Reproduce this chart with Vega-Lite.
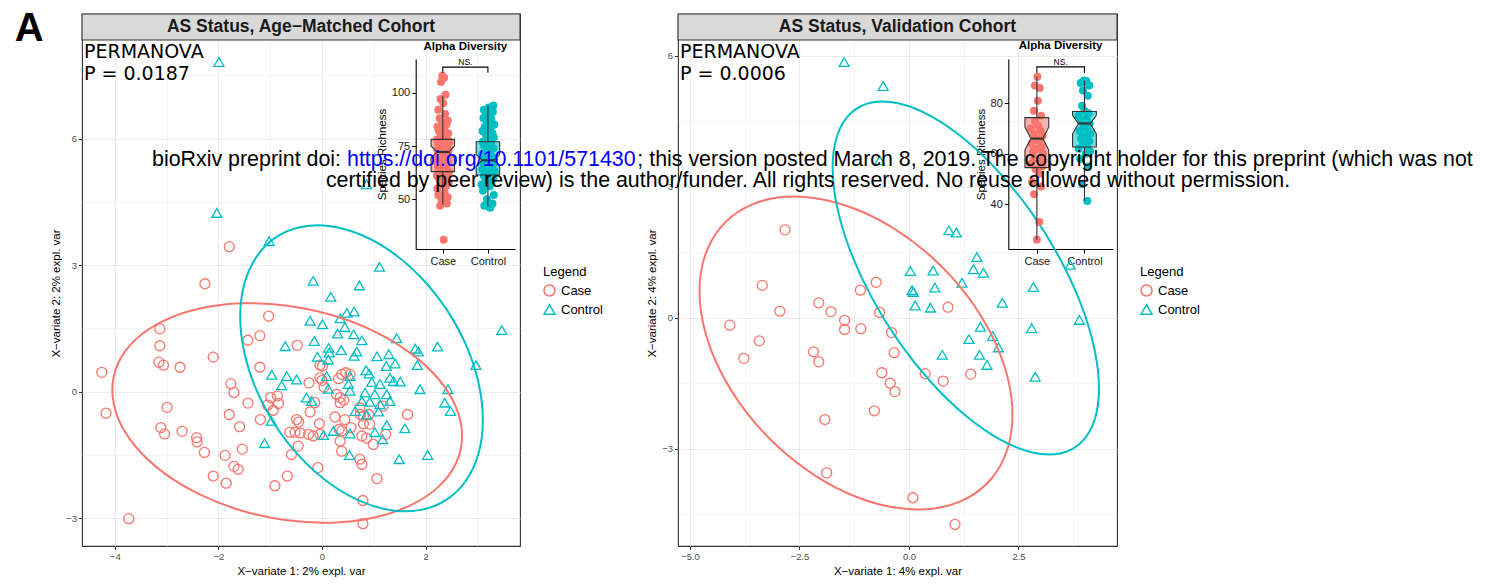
{
"$schema": "https://vega.github.io/schema/vega-lite/v6.json",
"background": "white",
"padding": {"left": 14, "top": 8, "right": 5, "bottom": 2},
"config": {
  "font": "Liberation Sans",
  "view": {"stroke": "#333333", "strokeWidth": 1.1},
  "axis": {"labelFont": "Liberation Sans", "titleFont": "Liberation Sans", "gridColor": "#EBEBEB", "domain": false, "tickColor": "#333333", "tickSize": 3.5, "labelColor": "#4D4D4D", "labelFontSize": 9.5, "labelPadding": 2, "titleFontSize": 11.5, "titleColor": "#000000", "titleFontWeight": "normal", "titlePadding": 4, "labelFlush": false},
  "legend": {"labelFont": "Liberation Sans", "titleFont": "Liberation Sans"}
},
"datasets": {
  "p1pts": [
    {"g":"Case","x":-1.79,"y":3.44},{"g":"Case","x":-2.26,"y":2.56},{"g":"Case","x":-1.03,"y":1.79},{"g":"Case","x":-3.13,"y":1.49},{"g":"Case","x":-1.2,"y":1.33},{"g":"Case","x":-1.43,"y":1.22},{"g":"Case","x":-3.13,"y":1.09},{"g":"Case","x":-2.1,"y":0.82},{"g":"Case","x":-3.15,"y":0.7},{"g":"Case","x":-3.06,"y":0.63},{"g":"Case","x":-2.74,"y":0.58},{"g":"Case","x":-1.2,"y":0.58},{"g":"Case","x":-4.25,"y":0.46},{"g":"Case","x":-1.76,"y":0.19},{"g":"Case","x":-1.7,"y":-0.02},{"g":"Case","x":-0.99,"y":-0.14},{"g":"Case","x":-0.86,"y":-0.1},{"g":"Case","x":-0.84,"y":-0.28},{"g":"Case","x":-1.05,"y":-0.32},{"g":"Case","x":-1.43,"y":-0.27},{"g":"Case","x":-0.94,"y":-0.44},{"g":"Case","x":-4.17,"y":-0.51},{"g":"Case","x":-2.99,"y":-0.37},{"g":"Case","x":-1.79,"y":-0.54},{"g":"Case","x":-1.19,"y":-0.66},{"g":"Case","x":-1.59,"y":-0.83},{"g":"Case","x":-3.11,"y":-0.85},{"g":"Case","x":-3.04,"y":-1.0},{"g":"Case","x":-2.7,"y":-0.94},{"g":"Case","x":-2.42,"y":-1.09},{"g":"Case","x":-2.41,"y":-1.19},{"g":"Case","x":-2.27,"y":-1.44},{"g":"Case","x":-1.54,"y":-1.36},{"g":"Case","x":-1.87,"y":-1.51},{"g":"Case","x":-1.7,"y":-1.77},{"g":"Case","x":-1.62,"y":-1.84},{"g":"Case","x":-2.1,"y":-2.0},{"g":"Case","x":-1.85,"y":-2.17},{"g":"Case","x":-0.67,"y":-2.0},{"g":"Case","x":-0.91,"y":-2.23},{"g":"Case","x":-3.73,"y":-3.01},{"g":"Case","x":-0.59,"y":-1.49},{"g":"Case","x":-0.49,"y":-0.66},{"g":"Case","x":-0.48,"y":1.1},
    {"g":"Case","x":-0.04,"y":0.63},{"g":"Case","x":-0.25,"y":0.21},{"g":"Case","x":-0.04,"y":0.33},{"g":"Case","x":0.38,"y":0.41},{"g":"Case","x":0.46,"y":0.45},{"g":"Case","x":0.32,"y":0.31},{"g":"Case","x":0.28,"y":-0.06},{"g":"Case","x":0.35,"y":-0.14},{"g":"Case","x":0.42,"y":-0.2},{"g":"Case","x":-0.14,"y":-0.26},{"g":"Case","x":0.35,"y":-0.26},{"g":"Case","x":-0.23,"y":-0.48},{"g":"Case","x":-0.05,"y":-0.76},{"g":"Case","x":0.25,"y":-0.6},{"g":"Case","x":0.44,"y":-0.66},{"g":"Case","x":-0.45,"y":-0.72},{"g":"Case","x":-0.62,"y":-0.96},{"g":"Case","x":-0.52,"y":-0.96},{"g":"Case","x":-0.42,"y":-0.98},{"g":"Case","x":-0.26,"y":-1.01},{"g":"Case","x":-0.17,"y":-1.05},{"g":"Case","x":-0.04,"y":-1.01},{"g":"Case","x":0.33,"y":-0.89},{"g":"Case","x":0.38,"y":-0.93},{"g":"Case","x":0.56,"y":-0.85},{"g":"Case","x":0.8,"y":-0.76},{"g":"Case","x":0.9,"y":-0.54},{"g":"Case","x":0.74,"y":-0.54},{"g":"Case","x":1.18,"y":-0.34},{"g":"Case","x":1.65,"y":-0.54},{"g":"Case","x":-0.46,"y":-1.29},{"g":"Case","x":0.35,"y":-1.17},{"g":"Case","x":0.38,"y":-1.41},{"g":"Case","x":0.77,"y":-1.05},{"g":"Case","x":0.99,"y":-1.25},{"g":"Case","x":0.73,"y":-1.6},{"g":"Case","x":0.77,"y":-1.72},{"g":"Case","x":1.06,"y":-2.06},{"g":"Case","x":0.79,"y":-2.58},{"g":"Case","x":0.79,"y":-3.13},{"g":"Case","x":-0.08,"y":-1.8},{"g":"Case","x":1.23,"y":-1.01},{"g":"Case","x":0.86,"y":-1.1},{"g":"Case","x":0.0,"y":0.27},{"g":"Case","x":0.04,"y":0.11},{"g":"Case","x":0.73,"y":-0.38},{"g":"Case","x":0.8,"y":-0.58},{"g":"Case","x":0.92,"y":-0.77},{"g":"Case","x":0.54,"y":0.41},{"g":"Case","x":0.01,"y":0.61},
    {"g":"Control","x":-1.99,"y":7.82},{"g":"Control","x":-2.03,"y":4.24},{"g":"Control","x":-1.02,"y":3.57},{"g":"Control","x":0.86,"y":4.92},
    {"g":"Control","x":1.11,"y":2.96},{"g":"Control","x":-0.17,"y":2.63},{"g":"Control","x":0.72,"y":2.52},{"g":"Control","x":0.17,"y":2.25},{"g":"Control","x":0.48,"y":1.87},{"g":"Control","x":0.62,"y":1.9},{"g":"Control","x":0.35,"y":1.74},{"g":"Control","x":-0.23,"y":1.68},{"g":"Control","x":0.01,"y":1.6},{"g":"Control","x":0.44,"y":1.53},{"g":"Control","x":0.3,"y":1.38},{"g":"Control","x":0.61,"y":1.36},{"g":"Control","x":0.77,"y":1.22},{"g":"Control","x":1.44,"y":1.27},{"g":"Control","x":-0.15,"y":1.2},{"g":"Control","x":-0.71,"y":1.08},{"g":"Control","x":0.13,"y":1.04},{"g":"Control","x":0.37,"y":0.99},{"g":"Control","x":0.14,"y":0.93},{"g":"Control","x":0.67,"y":0.95},{"g":"Control","x":0.62,"y":0.85},{"g":"Control","x":1.8,"y":1.02},{"g":"Control","x":1.86,"y":0.95},{"g":"Control","x":2.23,"y":1.07},{"g":"Control","x":-0.09,"y":0.83},{"g":"Control","x":0.12,"y":0.76},{"g":"Control","x":1.06,"y":0.84},{"g":"Control","x":1.29,"y":0.89},{"g":"Control","x":1.41,"y":0.67},{"g":"Control","x":1.24,"y":0.61},{"g":"Control","x":1.84,"y":0.63},{"g":"Control","x":2.97,"y":0.63},{"g":"Control","x":3.47,"y":1.46},{"g":"Control","x":0.85,"y":0.51},{"g":"Control","x":0.54,"y":0.37},{"g":"Control","x":0.91,"y":0.43},{"g":"Control","x":-0.68,"y":0.37},{"g":"Control","x":-0.49,"y":0.29},{"g":"Control","x":0.09,"y":0.37},{"g":"Control","x":0.96,"y":0.23},{"g":"Control","x":1.12,"y":0.18},{"g":"Control","x":1.31,"y":0.33},{"g":"Control","x":1.38,"y":0.25},{"g":"Control","x":1.51,"y":0.24},{"g":"Control","x":0.51,"y":0.18},{"g":"Control","x":0.12,"y":0.07},{"g":"Control","x":1.89,"y":0.06},{"g":"Control","x":2.43,"y":0.06},{"g":"Control","x":-0.3,"y":-0.14},{"g":"Control","x":-0.2,"y":-0.22},{"g":"Control","x":0.54,"y":0.02},{"g":"Control","x":0.83,"y":-0.02},{"g":"Control","x":1.02,"y":-0.06},{"g":"Control","x":1.25,"y":-0.06},{"g":"Control","x":0.77,"y":-0.22},{"g":"Control","x":0.92,"y":-0.24},{"g":"Control","x":1.12,"y":-0.3},{"g":"Control","x":1.31,"y":-0.22},{"g":"Control","x":2.37,"y":-0.26},{"g":"Control","x":0.64,"y":-0.46},{"g":"Control","x":0.86,"y":-0.54},{"g":"Control","x":1.09,"y":-0.47},{"g":"Control","x":2.48,"y":-0.46},{"g":"Control","x":1.25,"y":-0.79},{"g":"Control","x":1.6,"y":-0.87},{"g":"Control","x":1.02,"y":-0.96},{"g":"Control","x":0.03,"y":-1.03},{"g":"Control","x":0.22,"y":-0.93},{"g":"Control","x":0.54,"y":-0.99},{"g":"Control","x":1.17,"y":-1.13},{"g":"Control","x":0.53,"y":-1.5},{"g":"Control","x":1.49,"y":-1.6},{"g":"Control","x":2.04,"y":-1.5},{"g":"Control","x":-1.11,"y":-1.22},{"g":"Control","x":-0.98,"y":-0.69},{"g":"Control","x":-0.97,"y":0.4},{"g":"Control","x":-0.78,"y":0.15}
  ],
  "p1ell": [
    {"g":"Case","o":0,"x":2.704,"y":-1.051},{"g":"Case","o":1,"x":2.589,"y":-1.691},{"g":"Case","o":2,"x":2.252,"y":-2.251},{"g":"Case","o":3,"x":1.715,"y":-2.691},{"g":"Case","o":4,"x":1.016,"y":-2.983},{"g":"Case","o":5,"x":0.202,"y":-3.106},{"g":"Case","o":6,"x":-0.672,"y":-3.051},{"g":"Case","o":7,"x":-1.546,"y":-2.823},{"g":"Case","o":8,"x":-2.36,"y":-2.437},{"g":"Case","o":9,"x":-3.059,"y":-1.919},{"g":"Case","o":10,"x":-3.596,"y":-1.305},{"g":"Case","o":11,"x":-3.933,"y":-0.637},{"g":"Case","o":12,"x":-4.048,"y":0.041},{"g":"Case","o":13,"x":-3.933,"y":0.681},{"g":"Case","o":14,"x":-3.596,"y":1.241},{"g":"Case","o":15,"x":-3.059,"y":1.681},{"g":"Case","o":16,"x":-2.36,"y":1.973},{"g":"Case","o":17,"x":-1.546,"y":2.096},{"g":"Case","o":18,"x":-0.672,"y":2.041},{"g":"Case","o":19,"x":0.202,"y":1.813},{"g":"Case","o":20,"x":1.016,"y":1.427},{"g":"Case","o":21,"x":1.715,"y":0.909},{"g":"Case","o":22,"x":2.252,"y":0.295},{"g":"Case","o":23,"x":2.589,"y":-0.373},
    {"g":"Control","o":0,"x":3.105,"y":-0.671},{"g":"Control","o":1,"x":3.025,"y":-1.448},{"g":"Control","o":2,"x":2.791,"y":-2.088},{"g":"Control","o":3,"x":2.419,"y":-2.548},{"g":"Control","o":4,"x":1.934,"y":-2.796},{"g":"Control","o":5,"x":1.369,"y":-2.816},{"g":"Control","o":6,"x":0.763,"y":-2.606},{"g":"Control","o":7,"x":0.157,"y":-2.182},{"g":"Control","o":8,"x":-0.408,"y":-1.57},{"g":"Control","o":9,"x":-0.893,"y":-0.813},{"g":"Control","o":10,"x":-1.265,"y":0.036},{"g":"Control","o":11,"x":-1.499,"y":0.921},{"g":"Control","o":12,"x":-1.579,"y":1.781},{"g":"Control","o":13,"x":-1.499,"y":2.558},{"g":"Control","o":14,"x":-1.265,"y":3.198},{"g":"Control","o":15,"x":-0.893,"y":3.658},{"g":"Control","o":16,"x":-0.408,"y":3.906},{"g":"Control","o":17,"x":0.157,"y":3.926},{"g":"Control","o":18,"x":0.763,"y":3.716},{"g":"Control","o":19,"x":1.369,"y":3.292},{"g":"Control","o":20,"x":1.934,"y":2.68},{"g":"Control","o":21,"x":2.419,"y":1.923},{"g":"Control","o":22,"x":2.791,"y":1.074},{"g":"Control","o":23,"x":3.025,"y":0.189}
  ],
  "p2pts": [
    {"g":"Case","x":-2.83,"y":2.01},{"g":"Case","x":-3.35,"y":0.74},{"g":"Case","x":-0.75,"y":0.81},{"g":"Case","x":-1.11,"y":0.63},{"g":"Case","x":-2.06,"y":0.34},{"g":"Case","x":-1.78,"y":0.14},{"g":"Case","x":-2.95,"y":0.15},{"g":"Case","x":-0.67,"y":0.12},{"g":"Case","x":-1.47,"y":-0.06},{"g":"Case","x":-1.47,"y":-0.27},{"g":"Case","x":-1.1,"y":-0.25},{"g":"Case","x":-4.09,"y":-0.17},{"g":"Case","x":-0.4,"y":-0.34},{"g":"Case","x":-3.42,"y":-0.53},{"g":"Case","x":-3.77,"y":-0.93},{"g":"Case","x":-2.18,"y":-0.78},{"g":"Case","x":-2.06,"y":-1.01},{"g":"Case","x":-0.34,"y":-0.8},{"g":"Case","x":-0.62,"y":-1.26},{"g":"Case","x":-0.43,"y":-1.5},{"g":"Case","x":-0.32,"y":-1.69},{"g":"Case","x":-0.79,"y":-2.13},{"g":"Case","x":-1.92,"y":-2.33},{"g":"Case","x":-1.88,"y":-3.55},{"g":"Case","x":0.09,"y":-4.12},{"g":"Case","x":1.05,"y":-4.73},{"g":"Case","x":0.37,"y":-1.28},{"g":"Case","x":0.78,"y":-1.45},{"g":"Case","x":1.41,"y":-1.29},{"g":"Case","x":0.89,"y":0.24},
    {"g":"Control","x":-1.48,"y":5.85},{"g":"Control","x":-0.59,"y":5.3},{"g":"Control","x":-0.67,"y":3.6},{"g":"Control","x":0.91,"y":2.0},{"g":"Control","x":1.08,"y":1.95},{"g":"Control","x":1.55,"y":1.39},{"g":"Control","x":1.47,"y":1.11},{"g":"Control","x":1.7,"y":1.03},{"g":"Control","x":0.03,"y":1.07},{"g":"Control","x":0.55,"y":1.08},{"g":"Control","x":1.21,"y":0.8},{"g":"Control","x":0.07,"y":0.63},{"g":"Control","x":0.1,"y":0.59},{"g":"Control","x":0.59,"y":0.69},{"g":"Control","x":2.84,"y":0.7},{"g":"Control","x":3.68,"y":1.21},{"g":"Control","x":0.14,"y":0.28},{"g":"Control","x":0.49,"y":0.23},{"g":"Control","x":2.13,"y":0.34},{"g":"Control","x":3.89,"y":-0.05},{"g":"Control","x":2.8,"y":-0.24},{"g":"Control","x":1.63,"y":-0.21},{"g":"Control","x":1.91,"y":-0.42},{"g":"Control","x":1.37,"y":-0.49},{"g":"Control","x":2.04,"y":-0.68},{"g":"Control","x":0.76,"y":-0.85},{"g":"Control","x":1.61,"y":-0.85},{"g":"Control","x":1.78,"y":-1.08},{"g":"Control","x":2.88,"y":-1.35}
  ],
  "p2ell": [
    {"g":"Case","o":0,"x":2.363,"y":-2.224},{"g":"Case","o":1,"x":2.241,"y":-3.028},{"g":"Case","o":2,"x":1.884,"y":-3.679},{"g":"Case","o":3,"x":1.317,"y":-4.135},{"g":"Case","o":4,"x":0.577,"y":-4.365},{"g":"Case","o":5,"x":-0.285,"y":-4.351},{"g":"Case","o":6,"x":-1.21,"y":-4.097},{"g":"Case","o":7,"x":-2.135,"y":-3.618},{"g":"Case","o":8,"x":-2.997,"y":-2.948},{"g":"Case","o":9,"x":-3.737,"y":-2.132},{"g":"Case","o":10,"x":-4.304,"y":-1.226},{"g":"Case","o":11,"x":-4.661,"y":-0.291},{"g":"Case","o":12,"x":-4.783,"y":0.608},{"g":"Case","o":13,"x":-4.661,"y":1.411},{"g":"Case","o":14,"x":-4.304,"y":2.063},{"g":"Case","o":15,"x":-3.737,"y":2.519},{"g":"Case","o":16,"x":-2.997,"y":2.749},{"g":"Case","o":17,"x":-2.135,"y":2.735},{"g":"Case","o":18,"x":-1.21,"y":2.481},{"g":"Case","o":19,"x":-0.285,"y":2.002},{"g":"Case","o":20,"x":0.577,"y":1.332},{"g":"Case","o":21,"x":1.317,"y":0.516},{"g":"Case","o":22,"x":1.884,"y":-0.39},{"g":"Case","o":23,"x":2.241,"y":-1.325},
    {"g":"Control","o":0,"x":4.338,"y":-1.617},{"g":"Control","o":1,"x":4.234,"y":-2.347},{"g":"Control","o":2,"x":3.931,"y":-2.855},{"g":"Control","o":3,"x":3.447,"y":-3.107},{"g":"Control","o":4,"x":2.818,"y":-3.085},{"g":"Control","o":5,"x":2.084,"y":-2.791},{"g":"Control","o":6,"x":1.297,"y":-2.244},{"g":"Control","o":7,"x":0.51,"y":-1.483},{"g":"Control","o":8,"x":-0.224,"y":-0.559},{"g":"Control","o":9,"x":-0.853,"y":0.465},{"g":"Control","o":10,"x":-1.337,"y":1.519},{"g":"Control","o":11,"x":-1.64,"y":2.531},{"g":"Control","o":12,"x":-1.744,"y":3.433},{"g":"Control","o":13,"x":-1.64,"y":4.163},{"g":"Control","o":14,"x":-1.337,"y":4.671},{"g":"Control","o":15,"x":-0.853,"y":4.923},{"g":"Control","o":16,"x":-0.224,"y":4.901},{"g":"Control","o":17,"x":0.51,"y":4.607},{"g":"Control","o":18,"x":1.297,"y":4.06},{"g":"Control","o":19,"x":2.084,"y":3.299},{"g":"Control","o":20,"x":2.818,"y":2.375},{"g":"Control","o":21,"x":3.447,"y":1.351},{"g":"Control","o":22,"x":3.931,"y":0.297},{"g":"Control","o":23,"x":4.234,"y":-0.715}
  ],
  "p1jit": [
    {"g":"Case","j":1.02,"v":31},{"g":"Case","j":0.94,"v":47},{"g":"Case","j":1.09,"v":48},{"g":"Case","j":0.97,"v":50},{"g":"Case","j":1.11,"v":51},{"g":"Case","j":0.9,"v":52},{"g":"Case","j":1.04,"v":53},{"g":"Case","j":0.88,"v":55},{"g":"Case","j":1.07,"v":56},{"g":"Case","j":0.99,"v":57},{"g":"Case","j":1.13,"v":58},{"g":"Case","j":0.93,"v":59},{"g":"Case","j":1.05,"v":60},{"g":"Case","j":0.87,"v":61},{"g":"Case","j":1.1,"v":62},{"g":"Case","j":0.96,"v":62},{"g":"Case","j":1.01,"v":63},{"g":"Case","j":1.14,"v":63},{"g":"Case","j":0.91,"v":64},{"g":"Case","j":1.06,"v":65},{"g":"Case","j":0.89,"v":66},{"g":"Case","j":1.03,"v":66},{"g":"Case","j":1.12,"v":67},{"g":"Case","j":0.95,"v":68},{"g":"Case","j":1.08,"v":68},{"g":"Case","j":0.86,"v":69},{"g":"Case","j":1.0,"v":70},{"g":"Case","j":1.11,"v":70},{"g":"Case","j":0.92,"v":71},{"g":"Case","j":1.05,"v":72},{"g":"Case","j":0.98,"v":72},{"g":"Case","j":1.13,"v":73},{"g":"Case","j":0.88,"v":73},{"g":"Case","j":1.07,"v":74},{"g":"Case","j":0.94,"v":75},{"g":"Case","j":1.1,"v":75},{"g":"Case","j":0.9,"v":76},{"g":"Case","j":1.02,"v":76},{"g":"Case","j":1.14,"v":77},{"g":"Case","j":0.97,"v":77},{"g":"Case","j":1.06,"v":78},{"g":"Case","j":0.87,"v":78},{"g":"Case","j":1.09,"v":79},{"g":"Case","j":0.96,"v":80},{"g":"Case","j":1.12,"v":81},{"g":"Case","j":0.91,"v":82},{"g":"Case","j":1.03,"v":83},{"g":"Case","j":0.88,"v":84},{"g":"Case","j":1.08,"v":85},{"g":"Case","j":0.98,"v":86},{"g":"Case","j":1.11,"v":87},{"g":"Case","j":0.93,"v":88},{"g":"Case","j":1.05,"v":90},{"g":"Case","j":0.9,"v":92},{"g":"Case","j":1.01,"v":95},{"g":"Case","j":0.95,"v":97},{"g":"Case","j":1.06,"v":99},{"g":"Case","j":0.96,"v":105},{"g":"Case","j":1.03,"v":107},{"g":"Case","j":0.99,"v":108},
    {"g":"Control","j":2.05,"v":46},{"g":"Control","j":1.92,"v":47},{"g":"Control","j":2.1,"v":48},{"g":"Control","j":1.98,"v":50},{"g":"Control","j":2.13,"v":52},{"g":"Control","j":1.89,"v":54},{"g":"Control","j":2.04,"v":56},{"g":"Control","j":1.86,"v":57},{"g":"Control","j":2.08,"v":58},{"g":"Control","j":1.95,"v":59},{"g":"Control","j":2.12,"v":60},{"g":"Control","j":1.91,"v":61},{"g":"Control","j":2.02,"v":62},{"g":"Control","j":2.15,"v":63},{"g":"Control","j":1.88,"v":64},{"g":"Control","j":2.06,"v":65},{"g":"Control","j":1.97,"v":66},{"g":"Control","j":2.11,"v":66},{"g":"Control","j":1.9,"v":67},{"g":"Control","j":2.01,"v":68},{"g":"Control","j":2.14,"v":69},{"g":"Control","j":1.94,"v":69},{"g":"Control","j":2.09,"v":70},{"g":"Control","j":1.87,"v":71},{"g":"Control","j":2.04,"v":72},{"g":"Control","j":1.99,"v":73},{"g":"Control","j":2.12,"v":74},{"g":"Control","j":1.92,"v":75},{"g":"Control","j":2.07,"v":76},{"g":"Control","j":1.89,"v":77},{"g":"Control","j":2.03,"v":78},{"g":"Control","j":2.13,"v":79},{"g":"Control","j":1.96,"v":80},{"g":"Control","j":2.1,"v":81},{"g":"Control","j":1.88,"v":82},{"g":"Control","j":2.05,"v":83},{"g":"Control","j":1.93,"v":84},{"g":"Control","j":2.14,"v":85},{"g":"Control","j":1.98,"v":86},{"g":"Control","j":2.08,"v":87},{"g":"Control","j":1.9,"v":88},{"g":"Control","j":2.06,"v":89},{"g":"Control","j":1.95,"v":90},{"g":"Control","j":2.11,"v":91},{"g":"Control","j":1.91,"v":92},{"g":"Control","j":2.02,"v":93},{"g":"Control","j":2.12,"v":94}
  ],
  "p2jit": [
    {"g":"Case","j":1.0,"v":26},{"g":"Case","j":1.05,"v":33},{"g":"Case","j":0.94,"v":44},{"g":"Case","j":1.09,"v":47},{"g":"Case","j":0.9,"v":49},{"g":"Case","j":1.04,"v":52},{"g":"Case","j":0.97,"v":54},{"g":"Case","j":1.11,"v":55},{"g":"Case","j":0.88,"v":56},{"g":"Case","j":1.07,"v":57},{"g":"Case","j":0.95,"v":58},{"g":"Case","j":1.13,"v":60},{"g":"Case","j":0.92,"v":61},{"g":"Case","j":1.02,"v":62},{"g":"Case","j":1.1,"v":63},{"g":"Case","j":0.89,"v":64},{"g":"Case","j":1.05,"v":65},{"g":"Case","j":0.98,"v":66},{"g":"Case","j":1.12,"v":67},{"g":"Case","j":0.93,"v":68},{"g":"Case","j":1.08,"v":69},{"g":"Case","j":0.87,"v":70},{"g":"Case","j":1.03,"v":71},{"g":"Case","j":0.96,"v":73},{"g":"Case","j":1.09,"v":75},{"g":"Case","j":0.94,"v":77},{"g":"Case","j":1.02,"v":81},{"g":"Case","j":1.06,"v":86},{"g":"Case","j":0.96,"v":87},{"g":"Case","j":1.01,"v":90.5},
    {"g":"Control","j":2.06,"v":41.3},{"g":"Control","j":1.95,"v":48},{"g":"Control","j":2.08,"v":55},{"g":"Control","j":1.91,"v":58},{"g":"Control","j":2.03,"v":60},{"g":"Control","j":2.12,"v":61},{"g":"Control","j":1.88,"v":62},{"g":"Control","j":2.05,"v":63},{"g":"Control","j":1.97,"v":64},{"g":"Control","j":2.1,"v":65},{"g":"Control","j":1.93,"v":66},{"g":"Control","j":2.01,"v":67},{"g":"Control","j":2.13,"v":68},{"g":"Control","j":1.9,"v":69},{"g":"Control","j":2.06,"v":70},{"g":"Control","j":1.98,"v":71},{"g":"Control","j":2.11,"v":72},{"g":"Control","j":1.92,"v":73},{"g":"Control","j":2.04,"v":74},{"g":"Control","j":1.88,"v":75},{"g":"Control","j":2.09,"v":76},{"g":"Control","j":2.0,"v":77},{"g":"Control","j":1.95,"v":79},{"g":"Control","j":2.07,"v":83},{"g":"Control","j":1.97,"v":85},{"g":"Control","j":2.1,"v":87},{"g":"Control","j":1.92,"v":88},{"g":"Control","j":2.04,"v":88.8},{"g":"Control","j":1.99,"v":89}
  ]
},
"hconcat": [
  {
    "width": 438, "height": 532,
    "resolve": {"scale": {"x": "independent", "y": "independent"}},
    "layer": [
      {
        "data": {"name": "p1pts"},
        "mark": {"type": "point", "filled": false, "fill": "transparent", "strokeWidth": 1.3, "size": 100, "opacity": 1},
        "encoding": {
          "x": {"field": "x", "type": "quantitative", "scale": {"domain": [-4.633, 3.822], "nice": false, "zero": false},
                "axis": {"orient": "bottom", "title": "X−variate 1: 2% expl. var", "values": [-4,-3,-2,-1,0,1,2,3], "labelExpr": "datum.value % 2 == 0 ? datum.label : ''",
                         "gridWidth": {"condition": {"test": "datum.value % 2 != 0", "value": 0.55}, "value": 1.1},
                         "tickOpacity": {"condition": {"test": "datum.value % 2 != 0", "value": 0}, "value": 1}}},
          "y": {"field": "y", "type": "quantitative", "scale": {"domain": [-3.659, 8.957], "nice": false, "zero": false},
                "axis": {"orient": "left", "title": "X−variate 2: 2% expl. var", "titleY": 279, "values": [-3,-1.5,0,1.5,3,4.5,6,7.5], "labelExpr": "datum.value % 3 == 0 ? datum.label : ''",
                         "gridWidth": {"condition": {"test": "datum.value % 3 != 0", "value": 0.55}, "value": 1.1},
                         "tickOpacity": {"condition": {"test": "datum.value % 3 != 0", "value": 0}, "value": 1}}},
          "stroke": {"field": "g", "type": "nominal", "scale": {"domain": ["Case","Control"], "range": ["#F8766D","#00BFC4"]},
                    "legend": {"title": "Legend", "orient": "none", "legendX": 461, "legendY": 252, "titleFontSize": 13, "titleFontWeight": "normal", "titleColor": "#000000", "labelFontSize": 13, "labelColor": "#000000", "symbolStrokeWidth": 1.5, "symbolSize": 120, "symbolFillColor": "transparent", "rowPadding": 2, "titlePadding": 5, "labelOffset": 5}},
          "shape": {"field": "g", "type": "nominal", "scale": {"domain": ["Case","Control"], "range": ["circle","triangle-up"]},
                    "legend": {"title": "Legend", "orient": "none", "legendX": 461, "legendY": 252, "titleFontSize": 13, "titleFontWeight": "normal", "titleColor": "#000000", "labelFontSize": 13, "labelColor": "#000000", "symbolStrokeWidth": 1.5, "symbolSize": 120, "symbolFillColor": "transparent", "rowPadding": 2, "titlePadding": 5, "labelOffset": 5}}
        }
      },
      {
        "data": {"name": "p1ell"},
        "mark": {"type": "line", "interpolate": "cardinal-closed", "strokeWidth": 2},
        "encoding": {
          "x": {"field": "x", "type": "quantitative", "scale": {"domain": [-4.633, 3.822], "nice": false, "zero": false}, "axis": null},
          "y": {"field": "y", "type": "quantitative", "scale": {"domain": [-3.659, 8.957], "nice": false, "zero": false}, "axis": null},
          "order": {"field": "o", "type": "quantitative"},
          "stroke": {"field": "g", "type": "nominal", "scale": {"domain": ["Case","Control"], "range": ["#F8766D","#00BFC4"]}, "legend": null}
        }
      },
      {
        "data": {"values": [{"x": -4.633, "xe": 3.822, "y": 8.34, "ye": 8.957}]},
        "mark": {"type": "rect", "fill": "#D9D9D9", "stroke": "#333333", "strokeWidth": 1.1},
        "encoding": {
          "x": {"field": "x", "type": "quantitative", "scale": {"domain": [-4.633, 3.822], "nice": false, "zero": false}, "axis": null},
          "x2": {"field": "xe"},
          "y": {"field": "y", "type": "quantitative", "scale": {"domain": [-3.659, 8.957], "nice": false, "zero": false}, "axis": null},
          "y2": {"field": "ye"}
        }
      },
      {
        "data": {"values": [{"x": -0.405, "y": 8.648, "t": "AS Status, Age−Matched Cohort"}]},
        "mark": {"type": "text", "fontSize": 17.5, "fontWeight": "bold", "color": "#1A1A1A", "baseline": "middle", "align": "center", "font": "Liberation Sans"},
        "encoding": {
          "x": {"field": "x", "type": "quantitative", "scale": {"domain": [-4.633, 3.822], "nice": false, "zero": false}, "axis": null},
          "y": {"field": "y", "type": "quantitative", "scale": {"domain": [-3.659, 8.957], "nice": false, "zero": false}, "axis": null},
          "text": {"field": "t"}
        }
      },
      {
        "data": {"values": [{"x": -4.595, "y": 8.063, "t": "PERMANOVA"}, {"x": -4.595, "y": 7.527, "t": "P = 0.0187"}]},
        "mark": {"type": "text", "fontSize": 19, "color": "#000000", "baseline": "middle", "align": "left", "font": "DejaVu Sans"},
        "encoding": {
          "x": {"field": "x", "type": "quantitative", "scale": {"domain": [-4.633, 3.822], "nice": false, "zero": false}, "axis": null},
          "y": {"field": "y", "type": "quantitative", "scale": {"domain": [-3.659, 8.957], "nice": false, "zero": false}, "axis": null},
          "text": {"field": "t"}
        }
      },
      {
        "data": {"values": [{"x": -5.93, "y": 8.316, "t": "A"}]},
        "mark": {"type": "text", "fontSize": 40, "fontWeight": "bold", "color": "#000000", "baseline": "alphabetic", "align": "left", "font": "Liberation Sans"},
        "encoding": {
          "x": {"field": "x", "type": "quantitative", "scale": {"domain": [-4.633, 3.822], "nice": false, "zero": false}, "axis": null},
          "y": {"field": "y", "type": "quantitative", "scale": {"domain": [-3.659, 8.957], "nice": false, "zero": false}, "axis": null},
          "text": {"field": "t"}
        }
      },
      {
        "data": {"name": "p1jit"},
        "mark": {"type": "circle", "size": 64, "opacity": 1},
        "encoding": {
          "x": {"field": "j", "type": "quantitative", "scale": {"domain": [0.4, 2.6], "range": [333.7, 433], "nice": false, "zero": false},
                "axis": {"orient": "bottom", "offset": -297, "values": [1,2], "labelExpr": "datum.value == 1 ? 'Case' : 'Control'", "title": null, "grid": false, "domain": true, "domainColor": "#000000", "domainWidth": 1.1, "tickColor": "#000000", "tickSize": 4, "labelColor": "#1A1A1A", "labelFontSize": 11, "labelPadding": 2}},
          "y": {"field": "v", "type": "quantitative", "scale": {"domain": [26.7, 115.8], "range": [235, 45], "nice": false, "zero": false},
                "axis": {"orient": "left", "offset": -333.7, "values": [50,75,100], "title": "Species Richness", "grid": false, "domain": true, "domainColor": "#000000", "domainWidth": 1.1, "tickColor": "#000000", "tickSize": 4, "labelColor": "#1A1A1A", "labelFontSize": 11, "labelPadding": 2, "titleFontSize": 11.5, "titlePadding": 4}},
          "fill": {"field": "g", "type": "nominal", "scale": {"range": ["#F8766D","#00BFC4"]}, "legend": null}
        }
      },
      {
        "data": {"values": [
          {"g":"Case","v":63,"xl":0.74,"xr":1.26},{"g":"Case","v":69.5,"xl":0.74,"xr":1.26},{"g":"Case","v":72.2,"xl":0.87,"xr":1.13},{"g":"Case","v":75,"xl":0.74,"xr":1.26},{"g":"Case","v":78.1,"xl":0.74,"xr":1.26},
          {"g":"Control","v":61.4,"xl":1.74,"xr":2.26},{"g":"Control","v":65.5,"xl":1.74,"xr":2.26},{"g":"Control","v":68.3,"xl":1.87,"xr":2.13},{"g":"Control","v":71,"xl":1.74,"xr":2.26},{"g":"Control","v":77,"xl":1.74,"xr":2.26}
        ]},
        "mark": {"type": "area", "orient": "horizontal", "fillOpacity": 0.55, "stroke": "#333333", "strokeWidth": 1.1},
        "encoding": {
          "y": {"field": "v", "type": "quantitative", "scale": {"domain": [26.7, 115.8], "range": [235, 45], "nice": false, "zero": false}, "axis": null},
          "x": {"field": "xl", "type": "quantitative", "scale": {"domain": [0.4, 2.6], "range": [333.7, 433], "nice": false, "zero": false}, "axis": null},
          "x2": {"field": "xr"},
          "fill": {"field": "g", "type": "nominal", "scale": {"range": ["#F8766D","#00BFC4"]}, "legend": null}
        }
      },
      {
        "data": {"values": [{"j":1,"lo":47.6,"hi":63},{"j":1,"lo":78.1,"hi":98.4},{"j":2,"lo":46.7,"hi":61.4},{"j":2,"lo":77,"hi":94}]},
        "mark": {"type": "rule", "color": "#333333", "strokeWidth": 1.1},
        "encoding": {
          "x": {"field": "j", "type": "quantitative", "scale": {"domain": [0.4, 2.6], "range": [333.7, 433], "nice": false, "zero": false}, "axis": null},
          "y": {"field": "lo", "type": "quantitative", "scale": {"domain": [26.7, 115.8], "range": [235, 45], "nice": false, "zero": false}, "axis": null},
          "y2": {"field": "hi"}
        }
      },
      {
        "data": {"values": [{"v":72.2,"xl":0.87,"xr":1.13},{"v":68.3,"xl":1.87,"xr":2.13}]},
        "mark": {"type": "rule", "color": "#333333", "strokeWidth": 2.2},
        "encoding": {
          "x": {"field": "xl", "type": "quantitative", "scale": {"domain": [0.4, 2.6], "range": [333.7, 433], "nice": false, "zero": false}, "axis": null},
          "x2": {"field": "xr"},
          "y": {"field": "v", "type": "quantitative", "scale": {"domain": [26.7, 115.8], "range": [235, 45], "nice": false, "zero": false}, "axis": null}
        }
      },
      {
        "data": {"values": [{"o":1,"j":1,"v":109.4},{"o":2,"j":1,"v":112},{"o":3,"j":2,"v":112},{"o":4,"j":2,"v":109.4}]},
        "mark": {"type": "line", "color": "#000000", "strokeWidth": 1.1},
        "encoding": {
          "x": {"field": "j", "type": "quantitative", "scale": {"domain": [0.4, 2.6], "range": [333.7, 433], "nice": false, "zero": false}, "axis": null},
          "y": {"field": "v", "type": "quantitative", "scale": {"domain": [26.7, 115.8], "range": [235, 45], "nice": false, "zero": false}, "axis": null},
          "order": {"field": "o", "type": "quantitative"}
        }
      },
      {
        "data": {"values": [{"j":1.5,"v":114.3,"t":"NS."}]},
        "mark": {"type": "text", "fontSize": 8.5, "color": "#000000", "baseline": "middle", "align": "center"},
        "encoding": {
          "x": {"field": "j", "type": "quantitative", "scale": {"domain": [0.4, 2.6], "range": [333.7, 433], "nice": false, "zero": false}, "axis": null},
          "y": {"field": "v", "type": "quantitative", "scale": {"domain": [26.7, 115.8], "range": [235, 45], "nice": false, "zero": false}, "axis": null},
          "text": {"field": "t"}
        }
      },
      {
        "data": {"values": [{"j":1.5,"v":121.4,"t":"Alpha Diversity"}]},
        "mark": {"type": "text", "fontSize": 11.5, "fontWeight": "bold", "color": "#000000", "baseline": "middle", "align": "center"},
        "encoding": {
          "x": {"field": "j", "type": "quantitative", "scale": {"domain": [0.4, 2.6], "range": [333.7, 433], "nice": false, "zero": false}, "axis": null},
          "y": {"field": "v", "type": "quantitative", "scale": {"domain": [26.7, 115.8], "range": [235, 45], "nice": false, "zero": false}, "axis": null},
          "text": {"field": "t"}
        }
      }
    ]
  },
  {
    "width": 439, "height": 532,
    "resolve": {"scale": {"x": "independent", "y": "independent"}},
    "layer": [
      {
        "data": {"name": "p2pts"},
        "mark": {"type": "point", "filled": false, "fill": "transparent", "strokeWidth": 1.3, "size": 100, "opacity": 1},
        "encoding": {
          "x": {"field": "x", "type": "quantitative", "scale": {"domain": [-5.274, 4.749], "nice": false, "zero": false},
                "axis": {"orient": "bottom", "title": "X−variate 1: 4% expl. var", "format": ".1f", "values": [-5,-3.75,-2.5,-1.25,0,1.25,2.5,3.75], "labelExpr": "datum.value % 2.5 == 0 ? datum.label : ''",
                         "gridWidth": {"condition": {"test": "datum.value % 2.5 != 0", "value": 0.55}, "value": 1.1},
                         "tickOpacity": {"condition": {"test": "datum.value % 2.5 != 0", "value": 0}, "value": 1}}},
          "y": {"field": "y", "type": "quantitative", "scale": {"domain": [-5.224, 6.95], "nice": false, "zero": false},
                "axis": {"orient": "left", "title": "X−variate 2: 4% expl. var", "titleY": 279, "values": [-4.5,-3,-1.5,0,1.5,3,4.5,6], "labelExpr": "datum.value % 3 == 0 ? datum.label : ''",
                         "gridWidth": {"condition": {"test": "datum.value % 3 != 0", "value": 0.55}, "value": 1.1},
                         "tickOpacity": {"condition": {"test": "datum.value % 3 != 0", "value": 0}, "value": 1}}},
          "stroke": {"field": "g", "type": "nominal", "scale": {"domain": ["Case","Control"], "range": ["#F8766D","#00BFC4"]},
                    "legend": {"title": "Legend", "orient": "none", "legendX": 462, "legendY": 252, "titleFontSize": 13, "titleFontWeight": "normal", "titleColor": "#000000", "labelFontSize": 13, "labelColor": "#000000", "symbolStrokeWidth": 1.5, "symbolSize": 120, "symbolFillColor": "transparent", "rowPadding": 2, "titlePadding": 5, "labelOffset": 5}},
          "shape": {"field": "g", "type": "nominal", "scale": {"domain": ["Case","Control"], "range": ["circle","triangle-up"]},
                    "legend": {"title": "Legend", "orient": "none", "legendX": 462, "legendY": 252, "titleFontSize": 13, "titleFontWeight": "normal", "titleColor": "#000000", "labelFontSize": 13, "labelColor": "#000000", "symbolStrokeWidth": 1.5, "symbolSize": 120, "symbolFillColor": "transparent", "rowPadding": 2, "titlePadding": 5, "labelOffset": 5}}
        }
      },
      {
        "data": {"name": "p2ell"},
        "mark": {"type": "line", "interpolate": "cardinal-closed", "strokeWidth": 2},
        "encoding": {
          "x": {"field": "x", "type": "quantitative", "scale": {"domain": [-5.274, 4.749], "nice": false, "zero": false}, "axis": null},
          "y": {"field": "y", "type": "quantitative", "scale": {"domain": [-5.224, 6.95], "nice": false, "zero": false}, "axis": null},
          "order": {"field": "o", "type": "quantitative"},
          "stroke": {"field": "g", "type": "nominal", "scale": {"domain": ["Case","Control"], "range": ["#F8766D","#00BFC4"]}, "legend": null}
        }
      },
      {
        "data": {"values": [{"x": -5.274, "xe": 4.749, "y": 6.355, "ye": 6.95}]},
        "mark": {"type": "rect", "fill": "#D9D9D9", "stroke": "#333333", "strokeWidth": 1.1},
        "encoding": {
          "x": {"field": "x", "type": "quantitative", "scale": {"domain": [-5.274, 4.749], "nice": false, "zero": false}, "axis": null},
          "x2": {"field": "xe"},
          "y": {"field": "y", "type": "quantitative", "scale": {"domain": [-5.224, 6.95], "nice": false, "zero": false}, "axis": null},
          "y2": {"field": "ye"}
        }
      },
      {
        "data": {"values": [{"x": -0.263, "y": 6.652, "t": "AS Status, Validation Cohort"}]},
        "mark": {"type": "text", "fontSize": 17.5, "fontWeight": "bold", "color": "#1A1A1A", "baseline": "middle", "align": "center", "font": "Liberation Sans"},
        "encoding": {
          "x": {"field": "x", "type": "quantitative", "scale": {"domain": [-5.274, 4.749], "nice": false, "zero": false}, "axis": null},
          "y": {"field": "y", "type": "quantitative", "scale": {"domain": [-5.224, 6.95], "nice": false, "zero": false}, "axis": null},
          "text": {"field": "t"}
        }
      },
      {
        "data": {"values": [{"x": -5.228, "y": 6.087, "t": "PERMANOVA"}, {"x": -5.228, "y": 5.57, "t": "P = 0.0006"}]},
        "mark": {"type": "text", "fontSize": 19, "color": "#000000", "baseline": "middle", "align": "left", "font": "DejaVu Sans"},
        "encoding": {
          "x": {"field": "x", "type": "quantitative", "scale": {"domain": [-5.274, 4.749], "nice": false, "zero": false}, "axis": null},
          "y": {"field": "y", "type": "quantitative", "scale": {"domain": [-5.224, 6.95], "nice": false, "zero": false}, "axis": null},
          "text": {"field": "t"}
        }
      },
      {
        "data": {"name": "p2jit"},
        "mark": {"type": "circle", "size": 64, "opacity": 1},
        "encoding": {
          "x": {"field": "j", "type": "quantitative", "scale": {"domain": [0.4, 2.6], "range": [330.3, 435], "nice": false, "zero": false},
                "axis": {"orient": "bottom", "offset": -297, "values": [1,2], "labelExpr": "datum.value == 1 ? 'Case' : 'Control'", "title": null, "grid": false, "domain": true, "domainColor": "#000000", "domainWidth": 1.1, "tickColor": "#000000", "tickSize": 4, "labelColor": "#1A1A1A", "labelFontSize": 11, "labelPadding": 2}},
          "y": {"field": "v", "type": "quantitative", "scale": {"domain": [22.3, 97.5], "range": [235, 45], "nice": false, "zero": false},
                "axis": {"orient": "left", "offset": -330.3, "values": [40,60,80], "title": "Species Richness", "grid": false, "domain": true, "domainColor": "#000000", "domainWidth": 1.1, "tickColor": "#000000", "tickSize": 4, "labelColor": "#1A1A1A", "labelFontSize": 11, "labelPadding": 2, "titleFontSize": 11.5, "titlePadding": 4}},
          "fill": {"field": "g", "type": "nominal", "scale": {"range": ["#F8766D","#00BFC4"]}, "legend": null}
        }
      },
      {
        "data": {"values": [
          {"g":"Case","v":54.5,"xl":0.75,"xr":1.25},{"g":"Case","v":61.5,"xl":0.75,"xr":1.25},{"g":"Case","v":66,"xl":0.875,"xr":1.125},{"g":"Case","v":70.5,"xl":0.75,"xr":1.25},{"g":"Case","v":74.3,"xl":0.75,"xr":1.25},
          {"g":"Control","v":62.7,"xl":1.75,"xr":2.25},{"g":"Control","v":67.9,"xl":1.75,"xr":2.25},{"g":"Control","v":72,"xl":1.875,"xr":2.125},{"g":"Control","v":75.2,"xl":1.75,"xr":2.25},{"g":"Control","v":76.7,"xl":1.75,"xr":2.25}
        ]},
        "mark": {"type": "area", "orient": "horizontal", "fillOpacity": 0.55, "stroke": "#333333", "strokeWidth": 1.1},
        "encoding": {
          "y": {"field": "v", "type": "quantitative", "scale": {"domain": [22.3, 97.5], "range": [235, 45], "nice": false, "zero": false}, "axis": null},
          "x": {"field": "xl", "type": "quantitative", "scale": {"domain": [0.4, 2.6], "range": [330.3, 435], "nice": false, "zero": false}, "axis": null},
          "x2": {"field": "xr"},
          "fill": {"field": "g", "type": "nominal", "scale": {"range": ["#F8766D","#00BFC4"]}, "legend": null}
        }
      },
      {
        "data": {"values": [{"j":1,"lo":26,"hi":54.5},{"j":1,"lo":74.3,"hi":90.5},{"j":2,"lo":41.3,"hi":62.7},{"j":2,"lo":76.7,"hi":89}]},
        "mark": {"type": "rule", "color": "#333333", "strokeWidth": 1.1},
        "encoding": {
          "x": {"field": "j", "type": "quantitative", "scale": {"domain": [0.4, 2.6], "range": [330.3, 435], "nice": false, "zero": false}, "axis": null},
          "y": {"field": "lo", "type": "quantitative", "scale": {"domain": [22.3, 97.5], "range": [235, 45], "nice": false, "zero": false}, "axis": null},
          "y2": {"field": "hi"}
        }
      },
      {
        "data": {"values": [{"v":66,"xl":0.875,"xr":1.125},{"v":72,"xl":1.875,"xr":2.125}]},
        "mark": {"type": "rule", "color": "#333333", "strokeWidth": 2.2},
        "encoding": {
          "x": {"field": "xl", "type": "quantitative", "scale": {"domain": [0.4, 2.6], "range": [330.3, 435], "nice": false, "zero": false}, "axis": null},
          "x2": {"field": "xr"},
          "y": {"field": "v", "type": "quantitative", "scale": {"domain": [22.3, 97.5], "range": [235, 45], "nice": false, "zero": false}, "axis": null}
        }
      },
      {
        "data": {"values": [{"o":1,"j":1,"v":92.1},{"o":2,"j":1,"v":94.4},{"o":3,"j":2,"v":94.4},{"o":4,"j":2,"v":92.1}]},
        "mark": {"type": "line", "color": "#000000", "strokeWidth": 1.1},
        "encoding": {
          "x": {"field": "j", "type": "quantitative", "scale": {"domain": [0.4, 2.6], "range": [330.3, 435], "nice": false, "zero": false}, "axis": null},
          "y": {"field": "v", "type": "quantitative", "scale": {"domain": [22.3, 97.5], "range": [235, 45], "nice": false, "zero": false}, "axis": null},
          "order": {"field": "o", "type": "quantitative"}
        }
      },
      {
        "data": {"values": [{"j":1.5,"v":96.2,"t":"NS."}]},
        "mark": {"type": "text", "fontSize": 8.5, "color": "#000000", "baseline": "middle", "align": "center"},
        "encoding": {
          "x": {"field": "j", "type": "quantitative", "scale": {"domain": [0.4, 2.6], "range": [330.3, 435], "nice": false, "zero": false}, "axis": null},
          "y": {"field": "v", "type": "quantitative", "scale": {"domain": [22.3, 97.5], "range": [235, 45], "nice": false, "zero": false}, "axis": null},
          "text": {"field": "t"}
        }
      },
      {
        "data": {"values": [{"j":1.5,"v":102.7,"t":"Alpha Diversity"}]},
        "mark": {"type": "text", "fontSize": 11.5, "fontWeight": "bold", "color": "#000000", "baseline": "middle", "align": "center"},
        "encoding": {
          "x": {"field": "j", "type": "quantitative", "scale": {"domain": [0.4, 2.6], "range": [330.3, 435], "nice": false, "zero": false}, "axis": null},
          "y": {"field": "v", "type": "quantitative", "scale": {"domain": [22.3, 97.5], "range": [235, 45], "nice": false, "zero": false}, "axis": null},
          "text": {"field": "t"}
        }
      },
      {
        "data": {"values": [{"x": -17.283, "y": 3.609, "t": "bioRxiv preprint doi: "}, {"x": -6.203, "y": 3.609, "t": "; this version posted March 8, 2019. The copyright holder for this preprint (which was not"}]},
        "mark": {"type": "text", "fontSize": 21.4, "color": "#000000", "baseline": "middle", "align": "left", "font": "Liberation Sans"},
        "encoding": {
          "x": {"field": "x", "type": "quantitative", "scale": {"domain": [-5.274, 4.749], "nice": false, "zero": false}, "axis": null},
          "y": {"field": "y", "type": "quantitative", "scale": {"domain": [-5.224, 6.95], "nice": false, "zero": false}, "axis": null},
          "text": {"field": "t"}
        }
      },
      {
        "data": {"values": [{"x": -12.831, "y": 3.609, "t": "https://doi.org/10.1101/571430"}]},
        "mark": {"type": "text", "fontSize": 21.4, "color": "#0000FF", "baseline": "middle", "align": "left", "font": "Liberation Sans"},
        "encoding": {
          "x": {"field": "x", "type": "quantitative", "scale": {"domain": [-5.274, 4.749], "nice": false, "zero": false}, "axis": null},
          "y": {"field": "y", "type": "quantitative", "scale": {"domain": [-5.224, 6.95], "nice": false, "zero": false}, "axis": null},
          "text": {"field": "t"}
        }
      },
      {
        "data": {"values": [{"x": -2.306, "y": 3.128, "t": "certified by peer review) is the author/funder. All rights reserved. No reuse allowed without permission."}]},
        "mark": {"type": "text", "fontSize": 21.4, "color": "#000000", "baseline": "middle", "align": "center", "font": "Liberation Sans"},
        "encoding": {
          "x": {"field": "x", "type": "quantitative", "scale": {"domain": [-5.274, 4.749], "nice": false, "zero": false}, "axis": null},
          "y": {"field": "y", "type": "quantitative", "scale": {"domain": [-5.224, 6.95], "nice": false, "zero": false}, "axis": null},
          "text": {"field": "t"}
        }
      }
    ]
  }
],
"spacing": 158,
"bounds": "flush",
"resolve": {"scale": {"color": "independent", "shape": "independent", "fill": "independent", "stroke": "independent"}, "legend": {"color": "independent", "shape": "independent", "stroke": "independent"}}
}
